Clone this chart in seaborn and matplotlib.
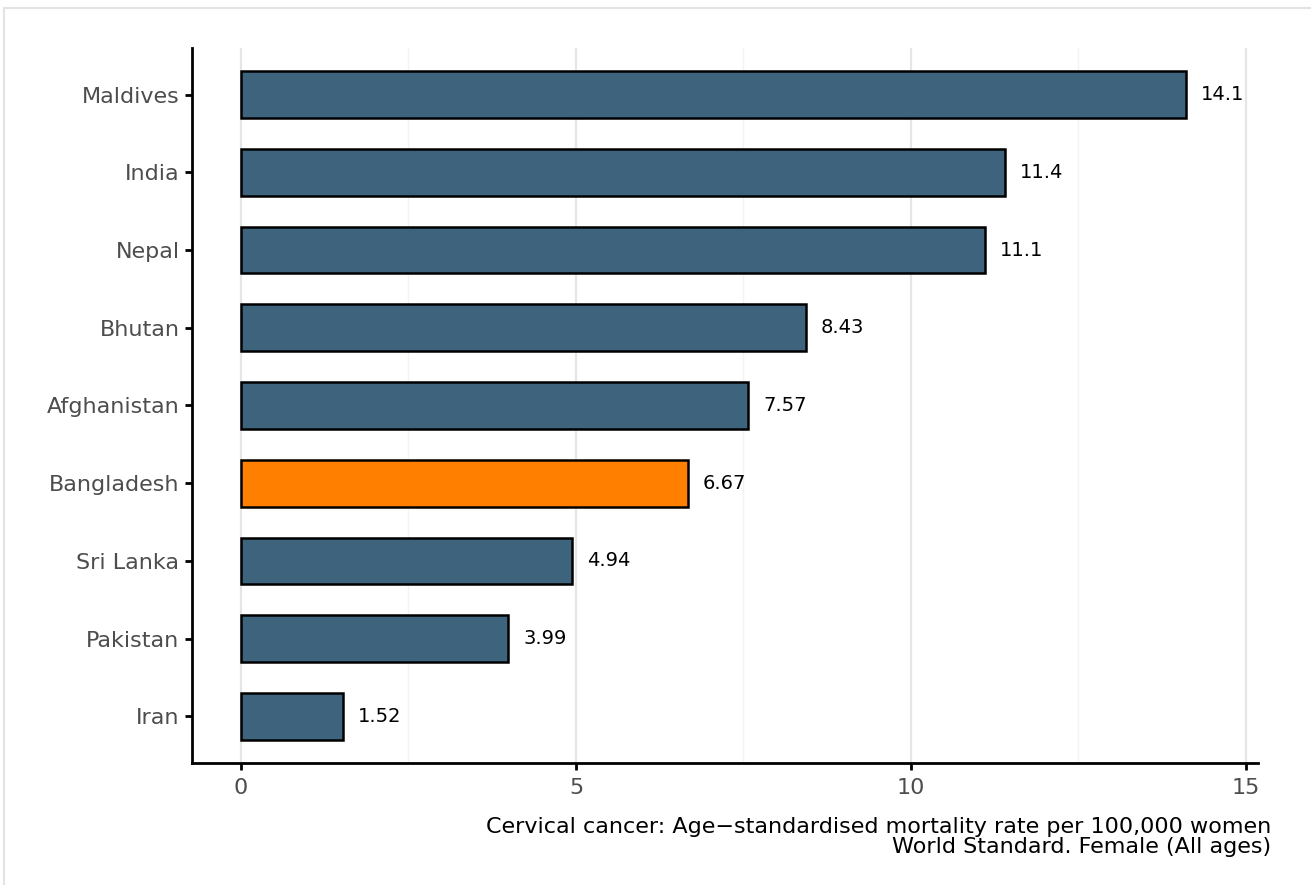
import matplotlib
matplotlib.use('Agg')
import matplotlib.pyplot as plt
from matplotlib.patches import Rectangle
import numpy as np
import pandas as pd
import seaborn as sns

countries = ['Maldives', 'India', 'Nepal', 'Bhutan', 'Afghanistan',
             'Bangladesh', 'Sri Lanka', 'Pakistan', 'Iran']
rates = [14.1, 11.4, 11.1, 8.43, 7.57, 6.67, 4.94, 3.99, 1.52]
rate_labels = ['14.1', '11.4', '11.1', '8.43', '7.57', '6.67', '4.94', '3.99', '1.52']
highlight = 'Bangladesh'
caption_lines = ['Cervical cancer: Age\u2212standardised mortality rate per 100,000 women',
                 'World Standard. Female (All ages)']


def main():
    sns.set_style('white')
    plt.rcParams['font.family'] = ['DejaVu Sans']

    df = pd.DataFrame({'country': countries, 'rate': rates})
    palette = {c: ('#ff8000' if c == highlight else '#3e637d') for c in countries}

    fig = plt.figure(figsize=(13.11, 8.85), dpi=100)
    ax = fig.add_axes([192 / 1311, 1 - 763 / 885, (1258 - 192) / 1311, (763 - 48) / 885])

    # grid first so bars sit on top
    for v in [2.5, 7.5, 12.5]:
        ax.axvline(v, color='#f3f3f3', lw=1.0, zorder=0)
    for v in [0, 5, 10, 15]:
        ax.axvline(v, color='#e6e6e6', lw=1.6, zorder=0)

    sns.barplot(data=df, x='rate', y='country', hue='country', palette=palette,
                order=countries, legend=False, width=0.6, edgecolor='black',
                linewidth=1.8, saturation=1, ax=ax, zorder=2)

    for i, (v, lab) in enumerate(zip(rates, rate_labels)):
        ax.text(v + 0.22, i, lab, va='center', ha='left', fontsize=14, color='black')

    ax.set_xlim(-0.731, 15.18)
    ax.set_ylim(len(countries) - 1 + 0.6, -0.6)
    ax.set_xticks([0, 5, 10, 15])
    ax.set_xlabel('')
    ax.set_ylabel('')
    ax.tick_params(axis='both', length=5, width=2, color='black',
                   labelsize=16, labelcolor='#4d4d4d', pad=4, left=True, bottom=True)
    ax.tick_params(axis='x', pad=6)
    for s in ['top', 'right']:
        ax.spines[s].set_visible(False)
    for s in ['left', 'bottom']:
        ax.spines[s].set_linewidth(2)
        ax.spines[s].set_color('black')

    # caption: two right-aligned lines, set close together
    for ypix, line in zip([827, 847], caption_lines):
        fig.text(1271 / 1311, 1 - ypix / 885, line, ha='right', va='center',
                 fontsize=16, color='black')

    fig.patches.append(Rectangle((4 / 1311, -0.05), 1.1, 1 - 8 / 885 + 0.05,
                                 transform=fig.transFigure, fill=False,
                                 edgecolor='#e3e3e3', lw=1.5))

    fig.savefig('out.png', dpi=100)
    plt.close(fig)


if __name__ == '__main__':
    main()
